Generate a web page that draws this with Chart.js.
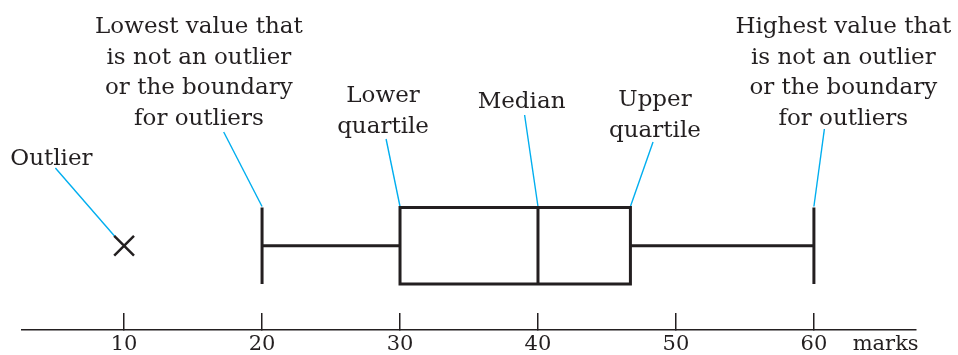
<!DOCTYPE html>
<html>
<head>
<meta charset="utf-8">
<script src="https://cdn.jsdelivr.net/npm/chart.js@4"></script>
<style>
  body { margin: 0; background: #fff; }
  canvas { display: block; }
</style>
</head>
<body>
<canvas id="boxChart" width="958" height="355"></canvas>
<script>
// box plot summary: lowest, lower quartile, median, upper quartile, highest
const statNames = ['min', 'q1', 'median', 'q3', 'max'];
const boxValues = [20, 30, 40, 46.7, 60];
const outlierValues = [10];
const tickValues = [10, 20, 30, 40, 50, 60];
const axisTitle = 'marks';

// callouts: which stat they point at, and their text lines
const calloutTargets = ['outlier', 'min', 'q1', 'median', 'q3', 'max'];
const calloutTexts = [
  ['Outlier'],
  ['Lowest value that', 'is not an outlier', 'or the boundary', 'for outliers'],
  ['Lower', 'quartile'],
  ['Median'],
  ['Upper', 'quartile'],
  ['Highest value that', 'is not an outlier', 'or the boundary', 'for outliers']
];

// layout (y is in arbitrary "height above axis" units, 0..33)
const boxLow = 4.6, boxHigh = 12.25, boxMid = 8.43;
const calloutLabelX = [4.73, 15.42, 28.77, 38.81, 48.48, 62.13];
const calloutLabelY = [16.5, 29.7, 22.8, 22.2, 22.4, 29.7]; // first baseline
const calloutLineStart = [[5.02, 16.2], [17.22, 19.8], [28.99, 19.1], [39.03, 21.5], [48.34, 18.8], [60.76, 20.1]];
const lineGap = 3.07;

const ink = '#231f20';
const cyan = '#00aeef';

const stat = {};
statNames.forEach((n, i) => stat[n] = boxValues[i]);

function seg(points, color, width) {
  return {
    type: 'scatter',
    data: points,
    showLine: true,
    borderColor: color,
    borderWidth: width,
    pointRadius: 0,
    borderJoinStyle: 'miter',
    borderCapStyle: 'butt',
    tension: 0
  };
}

const datasets = [];
// box (path starts mid-side so no corner is left open)
datasets.push(seg([
  {x: stat.q1, y: boxMid}, {x: stat.q1, y: boxLow}, {x: stat.q3, y: boxLow}, {x: stat.q3, y: boxHigh},
  {x: stat.q1, y: boxHigh}, {x: stat.q1, y: boxMid}
], ink, 3));
datasets.push(seg([{x: stat.median, y: boxLow}, {x: stat.median, y: boxHigh}], ink, 3));
// whiskers
datasets.push(seg([{x: stat.min, y: boxMid}, {x: stat.q1, y: boxMid}], ink, 3));
datasets.push(seg([{x: stat.q3, y: boxMid}, {x: stat.max, y: boxMid}], ink, 3));
datasets.push(seg([{x: stat.min, y: boxLow}, {x: stat.min, y: boxHigh}], ink, 3));
datasets.push(seg([{x: stat.max, y: boxLow}, {x: stat.max, y: boxHigh}], ink, 3));
// outliers
datasets.push({
  type: 'scatter',
  data: outlierValues.map(v => ({x: v, y: boxMid})),
  pointStyle: 'crossRot',
  pointRadius: 14,
  borderColor: ink,
  borderWidth: 2.5
});
// callout leader lines
calloutTargets.forEach((t, i) => {
  let end;
  if (t === 'outlier') end = {x: outlierValues[0] - 0.65, y: boxMid + 0.9};
  else end = {x: stat[t], y: boxHigh + 0.1};
  datasets.push(seg([{x: calloutLineStart[i][0], y: calloutLineStart[i][1]}, end], cyan, 1.4));
});

const calloutPlugin = {
  id: 'callouts',
  afterDraw(chart) {
    const ctx = chart.ctx;
    const xs = chart.scales.x, ys = chart.scales.y;
    ctx.save();
    ctx.fillStyle = ink;
    ctx.textAlign = 'center';
    ctx.textBaseline = 'alphabetic';
    ctx.font = '23px "DejaVu Serif"';
    calloutTexts.forEach((lines, i) => {
      const px = xs.getPixelForValue(calloutLabelX[i]);
      lines.forEach((line, j) => {
        const py = ys.getPixelForValue(calloutLabelY[i] - j * lineGap);
        ctx.fillText(line, px, py);
      });
    });
    // axis title on the tick label line
    ctx.font = '21px "DejaVu Serif"';
    ctx.textBaseline = 'middle';
    ctx.fillText(axisTitle, xs.getPixelForValue(65.2), xs.top + 14.6);
    ctx.restore();
  }
};

new Chart(document.getElementById('boxChart'), {
  type: 'scatter',
  data: { datasets: datasets },
  options: {
    responsive: false,
    devicePixelRatio: 1,
    animation: false,
    layout: { autoPadding: false, padding: { left: 22, right: 42, top: 0, bottom: 0 } },
    plugins: { legend: { display: false }, tooltip: { enabled: false } },
    scales: {
      x: {
        type: 'linear',
        position: 'bottom',
        min: 2.6,
        max: 67.4,
        afterBuildTicks: (scale) => { scale.ticks = tickValues.map(v => ({value: v})); },
        afterFit: (scale) => { scale.height = 25; },
        border: { color: ink, width: 1.5 },
        grid: { drawOnChartArea: false, drawTicks: true, tickLength: -17, color: ink, lineWidth: 1.5 },
        ticks: {
          autoSkip: false,
          maxRotation: 0,
          padding: 19,
          color: ink,
          font: { family: 'DejaVu Serif', size: 21 }
        }
      },
      y: { display: false, min: 0, max: 33 }
    }
  },
  plugins: [calloutPlugin]
});
</script>
</body>
</html>
